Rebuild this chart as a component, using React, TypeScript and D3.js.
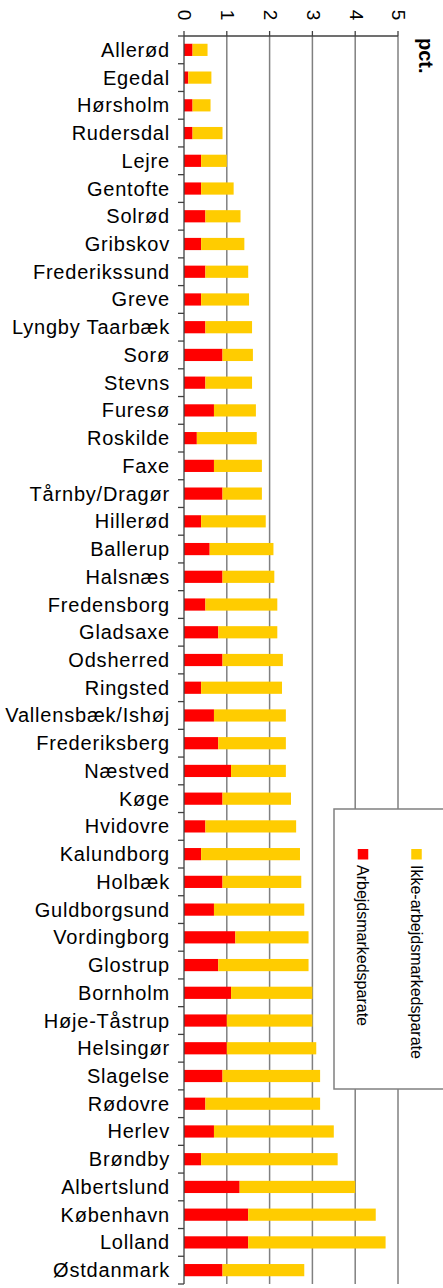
import React from "react";
import * as d3 from "d3";

const categories = [
  "Allerød", "Egedal", "Hørsholm", "Rudersdal", "Lejre", "Gentofte", "Solrød", "Gribskov",
  "Frederikssund", "Greve", "Lyngby Taarbæk", "Sorø", "Stevns", "Furesø", "Roskilde", "Faxe",
  "Tårnby/Dragør", "Hillerød", "Ballerup", "Halsnæs", "Fredensborg", "Gladsaxe", "Odsherred",
  "Ringsted", "Vallensbæk/Ishøj", "Frederiksberg", "Næstved", "Køge", "Hvidovre", "Kalundborg",
  "Holbæk", "Guldborgsund", "Vordingborg", "Glostrup", "Bornholm", "Høje-Tåstrup", "Helsingør",
  "Slagelse", "Rødovre", "Herlev", "Brøndby", "Albertslund", "København", "Lolland", "Østdanmark",
];

const arbejdsmarkedsparate = [
  0.2, 0.1, 0.2, 0.2, 0.4, 0.4, 0.5, 0.4, 0.5, 0.4, 0.5, 0.9, 0.5, 0.7, 0.3, 0.7,
  0.9, 0.4, 0.6, 0.9, 0.5, 0.8, 0.9, 0.4, 0.7, 0.8, 1.1, 0.9, 0.5, 0.4, 0.9, 0.7,
  1.2, 0.8, 1.1, 1.0, 1.0, 0.9, 0.5, 0.7, 0.4, 1.3, 1.5, 1.5, 0.9,
];

const ikkeArbejdsmarkedsparate = [
  0.35, 0.54, 0.42, 0.7, 0.6, 0.76, 0.82, 1.01, 1.0, 1.12, 1.09, 0.71, 1.09, 0.98, 1.4, 1.12,
  0.92, 1.51, 1.49, 1.21, 1.68, 1.38, 1.41, 1.89, 1.68, 1.58, 1.28, 1.6, 2.12, 2.31, 1.84, 2.11,
  1.71, 2.11, 1.9, 2.0, 2.09, 2.28, 2.68, 2.8, 3.19, 2.7, 2.98, 3.21, 1.91,
];

const xTicks = [0, 1, 2, 3, 4, 5];
const seriesNames = ["Arbejdsmarkedsparate", "Ikke-arbejdsmarkedsparate"];
const seriesColors = ["#FF0000", "#FFCC00"];

const FONT = "'Liberation Sans', Arial, Helvetica, sans-serif";

export default function App() {
  const W = 443;
  const H = 1288;
  const x0 = 184;
  const x1 = 398;
  const yTop = 36;
  const yBot = 1284;

  const x = d3.scaleLinear().domain([0, 5]).range([x0, x1]);
  const y = d3
    .scaleBand<string>()
    .domain(categories)
    .range([yTop, yBot])
    .paddingInner(0.56)
    .paddingOuter(0.28);

  const rows = categories.map((c, i) => ({
    cat: c,
    a: arbejdsmarkedsparate[i],
    b: ikkeArbejdsmarkedsparate[i],
  }));
  const stacked = d3.stack<any>().keys(["a", "b"])(rows);

  const step = y.step();
  const boundaries = d3.range(categories.length + 1).map((i) => yTop + i * step);

  const axisColor = "#404040";
  const gridColor = "#808080";

  return (
    <svg
      width={W}
      height={H}
      style={{ position: "absolute", left: 0, top: 0, background: "#fff" }}
      fontFamily={FONT}
    >
      {/* gridlines */}
      {xTicks.slice(1).map((t) => (
        <line key={"g" + t} x1={x(t)} x2={x(t)} y1={yTop} y2={yBot} stroke={gridColor} strokeWidth={1.5} />
      ))}

      {/* bars */}
      {stacked.map((s, si) => (
        <g key={"s" + si} fill={seriesColors[si]}>
          {s.map((d: any, i: number) => (
            <rect
              key={i}
              x={x(d[0])}
              y={y(categories[i])}
              width={x(d[1]) - x(d[0])}
              height={y.bandwidth()}
            />
          ))}
        </g>
      ))}

      {/* top axis */}
      <line x1={x0} x2={x1} y1={yTop} y2={yTop} stroke={axisColor} strokeWidth={1.3} />
      {xTicks.map((t) => (
        <g key={"t" + t}>
          <line x1={x(t)} x2={x(t)} y1={yTop - 5} y2={yTop} stroke={axisColor} strokeWidth={1.3} />
          <text
            transform={`translate(${x(t) + 1},15) rotate(90)`}
            dy="0.35em"
            textAnchor="middle"
            fontSize={19}
            fill="#000"
          >
            {t}
          </text>
        </g>
      ))}

      {/* left axis */}
      <line x1={x0} x2={x0} y1={yTop} y2={yBot} stroke={axisColor} strokeWidth={1.3} />
      {boundaries.map((b, i) => (
        <line key={"b" + i} x1={x0 - 6} x2={x0} y1={b} y2={b} stroke={axisColor} strokeWidth={1.3} />
      ))}
      {categories.map((c) => (
        <text
          key={"l" + c}
          x={170}
          y={(y(c) as number) + y.bandwidth() / 2 + 7}
          textAnchor="end"
          fontSize={20}
          letterSpacing={0.8}
          fill="#000"
        >
          {c}
        </text>
      ))}

      {/* unit label */}
      <text
        transform={`translate(426,38) rotate(90)`}
        dy="0.35em"
        textAnchor="start"
        fontSize={20}
        fontWeight="bold"
        fill="#000"
      >
        pct.
      </text>

      {/* legend */}
      <rect x={334} y={809} width={130} height={280} fill="#fff" stroke={gridColor} strokeWidth={1.5} />
      {seriesNames.map((n, i) => {
        const cx = 363 + i * 53.5;
        return (
          <g key={"lg" + i}>
            <rect x={cx - 5.25} y={849} width={10.5} height={10.5} fill={seriesColors[i]} />
            <text
              transform={`translate(${cx},865) rotate(90)`}
              dy="0.35em"
              textAnchor="start"
              fontSize={16}
              fill="#000"
            >
              {n}
            </text>
          </g>
        );
      })}
    </svg>
  );
}
